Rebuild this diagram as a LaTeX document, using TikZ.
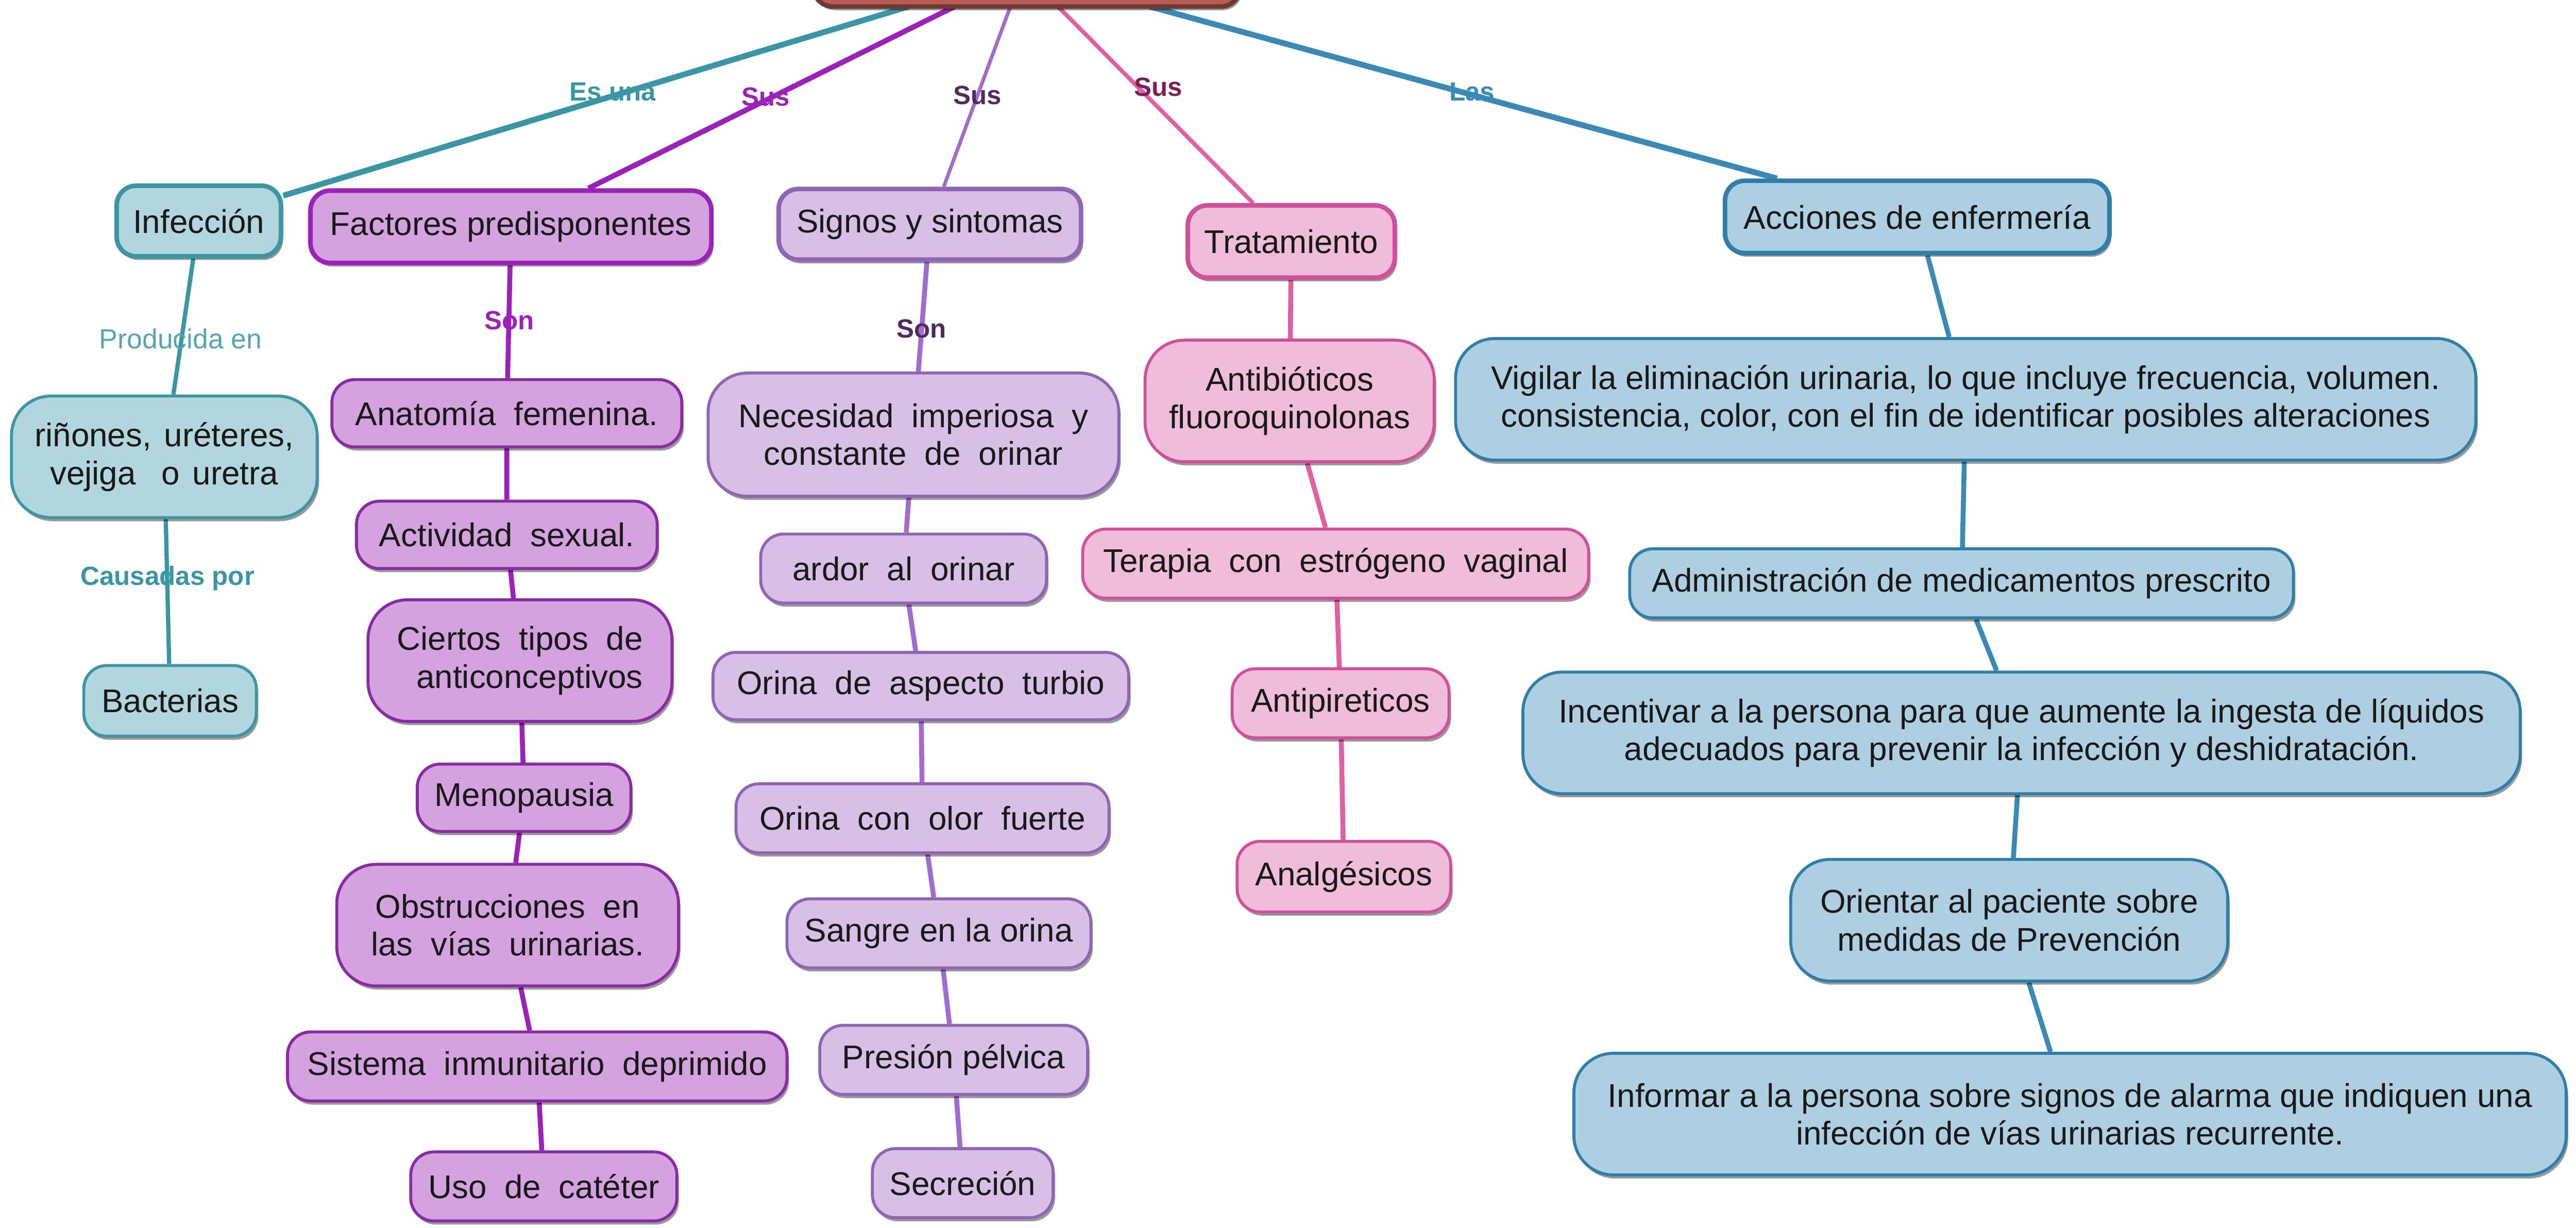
\documentclass[tikz,border=0pt]{standalone}
\usepackage{fontspec}
\setmainfont{Liberation Sans}
\newfontfamily\wsfont[WordSpace=2.3]{Liberation Sans}
\newfontfamily\wsmfont[WordSpace=1.4]{Liberation Sans}
\usetikzlibrary{shadows,backgrounds,calc}
\definecolor{tealF}{HTML}{B2D6DD}\definecolor{tealD}{HTML}{3E95A3}\definecolor{tealT}{HTML}{3A95A5}
\definecolor{purF}{HTML}{D4A2DF}\definecolor{purD}{HTML}{8A2BA3}\definecolor{purL}{HTML}{9B22B8}
\definecolor{lpuF}{HTML}{D7BFE6}\definecolor{lpuD}{HTML}{8E66B4}\definecolor{lpuL}{HTML}{A26CCF}\definecolor{lpuT}{HTML}{4E2A60}
\definecolor{pinF}{HTML}{EFBCD9}\definecolor{pinD}{HTML}{D0509A}\definecolor{pinL}{HTML}{E060A0}\definecolor{pinT}{HTML}{7A1F4F}
\definecolor{bluF}{HTML}{AECFE1}\definecolor{bluD}{HTML}{2F7FA8}\definecolor{bluL}{HTML}{3A8AB5}
\definecolor{rootF}{HTML}{B85C55}\definecolor{rootD}{HTML}{6E3A30}
\tikzset{
  box/.style={rounded corners=14pt, draw, line width=1.8pt, inner sep=0pt, align=center,
    text=black!90, font=\fontsize{20}{23}\selectfont,
    drop shadow={shadow xshift=1.2pt, shadow yshift=-2.2pt, opacity=.4, fill=black}},
  tall/.style={rounded corners=24pt},
  top/.style={line width=2.8pt, rounded corners=12pt},
  sz/.style 2 args={minimum width=#1pt, minimum height=#2pt},
  teal/.style={box, fill=tealF, draw=tealD},
  pur/.style={box, fill=purF, draw=purD},
  lpu/.style={box, fill=lpuF, draw=lpuD},
  pin/.style={box, fill=pinF, draw=pinD},
  blu/.style={box, fill=bluF, draw=bluD},
  lbl/.style={inner sep=0pt, font=\fontsize{16}{18}\selectfont\bfseries},
  ws/.style={font=\fontsize{20}{23}\wsfont},
  wsm/.style={font=\fontsize{20}{23}\wsmfont}
}
\begin{document}
\begin{tikzpicture}[x=1pt,y=-1pt]
\useasboundingbox (0,0) rectangle (1568,747.3);
\clip (0,0) rectangle (1568,747.3);
% root (cut off at top)
\node[box, top, fill=rootF, draw=rootD, sz={260}{44}] (root) at (625,-18) {};
\coordinate (r1) at (553,4);
\coordinate (r2) at (581,4);
\coordinate (r3) at (615,4);
\coordinate (r4) at (644,4);
\coordinate (r5) at (700,4);
% teal
\node[teal, top, draw=tealD, sz={100}{43}] (inf) at (121,134.5) {Infección};
\node[teal, tall, wsm, sz={186}{74}] (rin) at (100,278) {riñones, uréteres,\\vejiga\ \ o uretra};
\node[teal, sz={105}{43}] (bac) at (103.5,426.5) {Bacterias};
% purple
\node[pur, top, draw=purL, sz={244}{44}] (fac) at (311,138) {Factores predisponentes};
\node[pur, ws, sz={213}{41}] (ana) at (308.5,251.5) {Anatomía femenina.};
\node[pur, ws, sz={183}{41}] (act) at (308.5,325.5) {Actividad sexual.};
\node[pur, tall, ws, sz={185}{74}] (cie) at (316.5,402) {Ciertos tipos de\\\hfill anticonceptivos};
\node[pur, sz={130}{41}] (men) at (319,485.5) {Menopausia};
\node[pur, tall, ws, sz={208}{74}] (obs) at (309,563) {Obstrucciones en\\las vías urinarias.};
\node[pur, ws, sz={304}{42}] (sis) at (327,649) {Sistema inmunitario deprimido};
\node[pur, ws, sz={162}{42}] (uso) at (331,722) {Uso de catéter};
% light purple
\node[lpu, top, sz={184}{43}] (sig) at (566,136.5) {Signos y sintomas};
\node[lpu, tall, ws, sz={250}{75}] (nec) at (556,264.5) {Necesidad imperiosa y\\constante de orinar};
\node[lpu, ws, sz={174}{42}] (ard) at (550,346) {ardor al orinar};
\node[lpu, ws, sz={253}{41}] (tur) at (560.5,417.5) {Orina de aspecto turbio};
\node[lpu, ws, sz={227}{42}] (olo) at (561.5,498) {Orina con olor fuerte};
\node[lpu, sz={185}{42}] (san) at (571.5,568) {Sangre en la orina};
\node[lpu, sz={163}{42}] (pre) at (580.5,645) {Presión pélvica};
\node[lpu, sz={110}{42}] (sec) at (586,720) {Secreción};
% pink
\node[pin, top, sz={126}{44}] (tra) at (786,147) {Tratamiento};
\node[pin, tall, sz={176}{74}] (ant) at (785,244) {Antibióticos\\fluoroquinolonas};
\node[pin, ws, sz={308}{42}] (ter) at (813,343) {Terapia con estrógeno vaginal};
\node[pin, sz={132}{42}] (apir) at (816,428) {Antipireticos};
\node[pin, sz={130}{43}] (anl) at (818,533.5) {Analgésicos};
% blue
\node[blu, top, sz={234}{44}] (acc) at (1167,132) {Acciones de enfermería};
\node[blu, tall, sz={621}{74}] (vig) at (1196.5,243) {Vigilar la eliminación urinaria, lo que incluye frecuencia, volumen.\\consistencia, color, con el fin de identificar posibles alteraciones};
\node[blu, sz={404}{42}] (adm) at (1194,355) {Administración de medicamentos prescrito};
\node[blu, tall, sz={607}{74}] (inc) at (1230.5,446) {Incentivar a la persona para que aumente la ingesta de líquidos\\adecuados para prevenir la infección y deshidratación.};
\node[blu, tall, sz={266}{74}] (ori) at (1223,560) {Orientar al paciente sobre\\medidas de Prevención};
\node[blu, tall, sz={604}{74}] (infm) at (1260,678) {Informar a la persona sobre signos de alarma que indiquen una\\infección de vías urinarias recurrente.};
% connectors
\begin{scope}[on background layer]
\draw[tealT, line width=3.5pt] (r1) -- (inf);
\draw[purL, line width=3.2pt] (r2) -- (fac);
\draw[lpuL, line width=2.2pt] (r3) -- (sig);
\draw[pinL, line width=2.5pt] (r4) -- (tra);
\draw[bluL, line width=3.5pt] (r5) -- (acc);
\draw[tealT, line width=2.6pt] (inf) -- (rin) -- (bac);
\draw[purL, line width=3pt] (fac) -- (ana) -- (act) -- (cie) -- (men) -- (obs) -- (sis) -- (uso);
\draw[lpuL, line width=3pt] (sig) -- (nec) -- (ard) -- (tur) -- (olo) -- (san) -- (pre) -- (sec);
\draw[pinL, line width=3pt] (tra) -- (ant) -- (ter) -- (apir) -- (anl);
\draw[bluL, line width=3pt] (acc) -- (vig) -- (adm) -- (inc) -- (ori) -- (infm);
\end{scope}
% labels
\node[lbl, text=tealT] (l1) at (373,56) {Es una};
\node[lbl, text=purL] (l2) at (466,59) {Sus};
\node[lbl, text=lpuT] (l3) at (595,58) {Sus};
\node[lbl, text=pinT] (l4) at (705,53) {Sus};
\node[lbl, text=bluL] (l5) at (896,56) {Las};
\node[lbl, text=purL] (l6) at (310,195) {Son};
\node[lbl, text=lpuT] (l7) at (561,200) {Son};
\node[lbl, text=tealT!85, font=\fontsize{16.8}{19}\selectfont] (l8) at (110,206) {Producida en};
\node[lbl, text=tealT] (l9) at (102,352) {Causadas por};
\end{tikzpicture}
\end{document}
